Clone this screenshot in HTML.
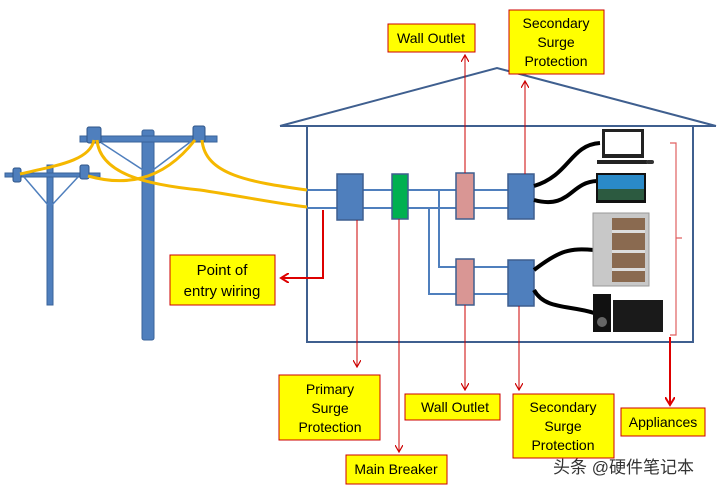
<!DOCTYPE html>
<html><head><style>body{margin:0;background:#fff}svg{display:block}text{font-family:"Liberation Sans","Noto Sans CJK SC",sans-serif}</style></head>
<body>
<svg width="717" height="492" viewBox="0 0 717 492" xmlns="http://www.w3.org/2000/svg">
<defs><marker id="a" markerWidth="8" markerHeight="8" refX="6" refY="4" orient="auto" markerUnits="userSpaceOnUse"><path d="M0,0 L7,4 L0,8" fill="none" stroke="#c00" stroke-width="1.2"/></marker>
<marker id="b" markerWidth="10" markerHeight="10" refX="7" refY="5" orient="auto" markerUnits="userSpaceOnUse"><path d="M0,0 L8,5 L0,10" fill="none" stroke="#d00" stroke-width="2"/></marker></defs>
<polyline points="280,126 497,68 716,126" fill="none" stroke="#3f5f8f" stroke-width="2"/>
<line x1="280" y1="126" x2="716" y2="126" stroke="#3f5f8f" stroke-width="2"/>
<rect x="307" y="126" width="386" height="216" fill="none" stroke="#3f5f8f" stroke-width="2"/>
<g fill="#4f7fbd" stroke="#3a639a" stroke-width="1">
<rect x="142" y="130" width="12" height="210" rx="2"/>
<rect x="80" y="136" width="137" height="6"/>
<rect x="47" y="165" width="6" height="140"/>
<rect x="5" y="173" width="95" height="4"/>
</g>
<g stroke="#4f7fbd" stroke-width="1.5" fill="none">
<line x1="97" y1="140" x2="143" y2="170"/><line x1="193" y1="140" x2="153" y2="170"/>
<line x1="24" y1="177" x2="48" y2="205"/><line x1="78" y1="177" x2="52" y2="205"/>
</g>
<g fill="#4f7fbd" stroke="#2f5588" stroke-width="1">
<rect x="87" y="127" width="14" height="16" rx="2"/><rect x="193" y="126" width="12" height="16" rx="2"/>
<rect x="13" y="168" width="8" height="14" rx="2"/><rect x="80" y="165" width="9" height="14" rx="2"/>
</g>
<g stroke="#f5b800" stroke-width="3" fill="none">
<path d="M20,174 C60,165 90,160 94,140"/>
<path d="M97,140 C100,175 150,185 200,190 C240,196 280,204 307,207"/>
<path d="M88,176 C120,185 160,185 195,140"/>
<path d="M202,140 C205,175 250,182 307,190"/>
</g>
<g stroke="#4f7fbd" stroke-width="2" fill="none">
<line x1="307" y1="190" x2="508" y2="190"/><line x1="307" y1="208" x2="508" y2="208"/>
<polyline points="439,190 439,267 508,267"/><polyline points="429,208 429,294 508,294"/>
</g>
<g stroke="#3f5f8f" stroke-width="1.5">
<rect x="337" y="174" width="26" height="46" fill="#4f7fbd"/>
<rect x="392" y="174" width="16" height="45" fill="#00b050"/>
<rect x="456" y="173" width="18" height="46" fill="#d99694"/>
<rect x="508" y="174" width="26" height="45" fill="#4f7fbd"/>
<rect x="456" y="259" width="18" height="46" fill="#d99694"/>
<rect x="508" y="260" width="26" height="46" fill="#4f7fbd"/>
</g>
<g stroke="#000" stroke-width="4" fill="none">
<path d="M534,186 C570,175 570,145 600,143"/>
<path d="M534,200 C570,210 570,182 597,181"/>
<path d="M534,270 C560,250 570,248 594,250"/>
<path d="M534,290 C545,310 570,305 594,313"/>
</g>
<rect x="602" y="129" width="42" height="29" fill="#222"/><rect x="605" y="132" width="36" height="22" fill="#fff"/>
<rect x="597" y="160" width="50" height="4" fill="#222"/><rect x="646" y="160" width="8" height="4" rx="2" fill="#333"/>
<rect x="596" y="173" width="50" height="30" fill="#111"/><rect x="598" y="175" width="46" height="25" fill="#2a8ac8"/><rect x="598" y="189" width="46" height="11" fill="#2c5a40"/>
<rect x="593" y="213" width="56" height="73" fill="#c8c8c8" stroke="#999"/>
<rect x="612" y="218" width="33" height="64" fill="#8a6a50"/>
<rect x="612" y="230" width="33" height="3" fill="#ddd"/><rect x="612" y="250" width="33" height="3" fill="#ddd"/><rect x="612" y="268" width="33" height="3" fill="#ddd"/>
<rect x="593" y="294" width="18" height="38" fill="#111"/><rect x="613" y="300" width="50" height="32" fill="#1a1a1a"/><circle cx="602" cy="322" r="5" fill="#666"/>
<path d="M670,143 H676 V238 H682 M676,238 V335 H670" fill="none" stroke="#e06060" stroke-width="1.2"/>
<g stroke="#c00" stroke-width="1" fill="none" marker-end="url(#a)">
<line x1="465" y1="173" x2="465" y2="56"/>
<line x1="525" y1="174" x2="525" y2="82"/>
<line x1="357" y1="220" x2="357" y2="366"/>
<line x1="399" y1="219" x2="399" y2="451"/>
<line x1="465" y1="305" x2="465" y2="389"/>
<line x1="519" y1="306" x2="519" y2="389"/>
</g>
<polyline points="323,210 323,278 282,278" fill="none" stroke="#d00" stroke-width="2" marker-end="url(#b)"/>
<line x1="670" y1="337" x2="670" y2="404" stroke="#d00" stroke-width="2" marker-end="url(#b)"/>
<g fill="#ffff00" stroke="#c00" stroke-width="1">
<rect x="388" y="24" width="87" height="28"/><rect x="509" y="10" width="95" height="64"/>
<rect x="170" y="255" width="105" height="50"/><rect x="279" y="375" width="101" height="65"/>
<rect x="346" y="455" width="101" height="29"/><rect x="405" y="394" width="95" height="26"/>
<rect x="513" y="394" width="101" height="64"/><rect x="621" y="408" width="84" height="28"/>
</g>
<g font-size="14" fill="#000" text-anchor="middle">
<text x="431" y="43">Wall Outlet</text>
<text x="556" y="28">Secondary</text><text x="556" y="47">Surge</text><text x="556" y="66">Protection</text>
<text x="222" y="275" font-size="15">Point of</text><text x="222" y="296" font-size="15">entry wiring</text>
<text x="330" y="394">Primary</text><text x="330" y="413">Surge</text><text x="330" y="432">Protection</text>
<text x="396" y="474">Main Breaker</text>
<text x="455" y="412">Wall Outlet</text>
<text x="563" y="412">Secondary</text><text x="563" y="431">Surge</text><text x="563" y="450">Protection</text>
<text x="663" y="427">Appliances</text>
</g>
<text x="553" y="473" font-size="17" fill="#333">头条 @硬件笔记本</text>
</svg>
</body></html>
